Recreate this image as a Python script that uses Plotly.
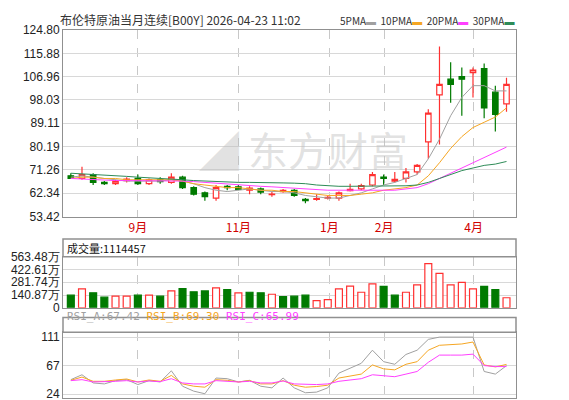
import plotly.graph_objects as go

# ---- data ----
opens  = [69, 68, 69.5, 66.5, 66, 67.2, 68, 66, 67.5, 66.5, 68.5, 64.5, 62.5, 60.5, 65, 64.8, 63.5, 64, 61.8, 63,
          63.5, 60, 60, 60.5, 60.5, 63.3, 64, 65.5, 68.5, 67, 68, 70.5, 82, 100, 106, 107, 108.5, 110, 101, 96.5]
closes = [68, 69.5, 66.5, 66, 67, 67.8, 66, 67.5, 66.8, 68.5, 64.5, 62, 61, 64.5, 64.5, 63.8, 64.3, 62.8, 62, 63.5,
          61.5, 59.5, 60.3, 60.8, 62.5, 63.8, 65.3, 69.5, 68, 67.7, 70.5, 73, 93, 104, 104, 106, 109.5, 95, 92.5, 104]
highs  = [70, 72.5, 70, 67, 67.5, 68.5, 69.5, 68, 68.5, 70, 69, 65, 63, 65.5, 65.5, 65.5, 65, 64.5, 63, 64,
          64, 60.5, 62, 61.5, 63, 66, 66, 70.5, 69.5, 70.5, 72, 73.5, 94.5, 118.5, 112.5, 110.5, 110.5, 112, 103.5, 106.5]
lows   = [67.8, 67.5, 65.5, 65.5, 65.5, 66.5, 65.5, 65.5, 66, 66, 64, 61.5, 59.5, 59.5, 63.5, 63.5, 62, 62, 61, 62.5,
          61, 58.5, 59.5, 60, 59.5, 63, 63.5, 65, 65.5, 66.5, 66.5, 69.5, 75.5, 81, 97, 92, 99, 91, 86, 93.5]

ma5  = [68.5, 69, 68.5, 68, 67.5, 67, 67, 67, 67, 67.5, 67, 66, 64.5, 63.5, 63, 63.5, 64, 63.5, 63, 63,
        62.5, 61.5, 61, 60.5, 60.5, 61.5, 62.5, 64, 65.5, 66.5, 68, 69.5, 75.5, 83, 92, 99, 103.5, 103.5, 101.5, 101.5]
ma10 = [68, 68.5, 68.5, 68, 68, 67.5, 67.5, 67.5, 67.5, 67.5, 67, 66, 65.5, 65, 64.5, 64.5, 64, 63.5, 63.5, 63,
        63, 62.5, 62, 61.5, 61.5, 61.5, 62, 62.5, 63.5, 64, 64.5, 65.5, 69, 74, 79.5, 84, 87.5, 89.5, 91.5, 95]
ma20 = [68, 67.8, 67.5, 67.3, 67.2, 67.2, 67.2, 67.2, 67.2, 67.2, 67, 66.8, 66.5, 66, 65.8, 65.5, 65.2, 65, 64.8, 64.5,
        64.2, 64, 63.8, 63.5, 63.5, 63.5, 63.5, 63.5, 63.5, 63.5, 64, 64.5, 66, 68, 70, 72, 74, 76, 78, 80]
ma30 = [70, 69.8, 69.5, 69.2, 69, 68.8, 68.5, 68.3, 68, 67.8, 67.5, 67.2, 67, 66.8, 66.6, 66.5, 66.5, 66.5, 66.5, 66.3,
        66.2, 66, 65.5, 65.2, 65, 65, 65, 65, 65, 65, 65.2, 65.5, 66.5, 68, 69.5, 71, 72, 73, 73.5, 74.5]

volume = [140, 208, 165, 118, 129, 129, 140, 140, 129, 186, 211, 176, 186, 219, 201, 165, 172, 165, 150, 125,
          129, 140, 79, 90, 208, 240, 172, 265, 237, 140, 172, 254, 487, 380, 254, 280, 208, 237, 201, 111.4]
vol_rising = [0, 1, 0, 0, 1, 1, 0, 1, 0, 1, 0, 0, 0, 1, 0, 1, 0, 0, 1, 0,
              0, 0, 1, 1, 1, 1, 1, 1, 0, 0, 1, 1, 1, 1, 1, 1, 1, 0, 0, 1]

rsi_a = [46, 53.5, 41, 39.5, 44.5, 46, 38.5, 44.5, 42.5, 59.5, 36, 28.5, 24.5, 48.5, 47.5, 42.5, 45, 36, 33.5, 48.5,
         33.5, 26, 27, 33.5, 56, 63.5, 71, 91, 73.5, 69.5, 84.5, 91, 107.5, 111, 111, 111, 111, 58.5, 54.5, 67.42]
rsi_b = [45, 50, 43.5, 43.5, 45.5, 47, 42.5, 45.5, 43.5, 52.5, 39.5, 36, 34.5, 46, 45, 42.5, 44.5, 39.5, 39.5, 44.5,
         37.5, 34.5, 35.5, 37.5, 48.5, 51, 54.5, 68.5, 62.5, 61, 69.5, 73.5, 91, 98.5, 99.5, 100.5, 103.5, 68.5, 65.5, 69.30]
rsi_c = [44.5, 46, 42.5, 42.5, 43.5, 44.5, 42.5, 44, 43, 47.5, 41, 39.5, 39.5, 44.5, 44, 42.5, 43.5, 41, 41, 44,
         39.5, 38.5, 38.5, 39.5, 43.5, 45.5, 47.5, 53.5, 52, 50.5, 54.5, 58.5, 72.5, 83.5, 83.5, 83.5, 85, 67.5, 66, 65.99]

month_pos = [6, 15, 23.15, 28.05, 36.05]
month_text = ["9月", "11月", "1月", "2月", "4月"]
price_ticks = [53.42, 62.34, 71.26, 80.19, 89.11, 98.03, 106.96, 115.88, 124.80]
vol_ticks = [0, 140.87, 281.74, 422.61, 563.48]
vol_text = ["0", "140.87万", "281.74万", "422.61万", "563.48万"]
rsi_ticks = [24, 67, 111]

RED = "#ff3030"
GREEN = "#007a00"
x = list(range(len(closes)))

fig = go.Figure()

fig.add_trace(go.Candlestick(x=x, open=opens, high=highs, low=lows, close=closes,
                             increasing=dict(line=dict(color=RED, width=1.2), fillcolor="white"),
                             decreasing=dict(line=dict(color=GREEN, width=1.2), fillcolor=GREEN),
                             whiskerwidth=0, hoverinfo="none", xaxis="x", yaxis="y"))
for vals, col in [(ma5, "#a0a0a0"), (ma10, "#f5a623"), (ma20, "#ff40ff"), (ma30, "#2e8b57")]:
    fig.add_trace(go.Scatter(x=x, y=vals, mode="lines", line=dict(color=col, width=1),
                             xaxis="x", yaxis="y", hoverinfo="none"))

fig.add_trace(go.Bar(x=x, y=volume, width=0.62,
                     marker=dict(color=["white" if u else GREEN for u in vol_rising],
                                 line=dict(color=[RED if u else GREEN for u in vol_rising], width=1.2)),
                     xaxis="x2", yaxis="y2", hoverinfo="none"))

for vals, col in [(rsi_a, "#a0a0a0"), (rsi_b, "#f5a623"), (rsi_c, "#ff40ff")]:
    fig.add_trace(go.Scatter(x=x, y=vals, mode="lines", line=dict(color=col, width=1),
                             xaxis="x3", yaxis="y3", hoverinfo="none"))

xbase = dict(range=[-0.7, 39.85], showgrid=True, gridcolor="#c8c8c8", griddash="dash", gridwidth=1,
             tickvals=month_pos, ticktext=month_text, zeroline=False, mirror=True, showline=True,
             linecolor="#909090", rangeslider=dict(visible=False), ticks="")
ybase = dict(showgrid=True, gridcolor="#d8d8d8", zeroline=False, showline=True, mirror=True,
             linecolor="#909090", ticks="", tickfont=dict(size=12, color="#222", family="Arial"))

fig.update_layout(
    width=569, height=400, margin=dict(l=54, r=61, t=22, b=3),
    paper_bgcolor="white", plot_bgcolor="white", showlegend=False,
    font=dict(family="Noto Sans CJK SC, Arial", size=12, color="#222"),
    xaxis=dict(xbase, domain=[0, 1], anchor="y", showticklabels=True,
               tickfont=dict(color="#d00000", size=12)),
    xaxis2=dict(xbase, anchor="y2", matches="x", showticklabels=False),
    xaxis3=dict(xbase, anchor="y3", matches="x", showticklabels=False),
    yaxis=dict(ybase, domain=[0.493, 1], range=[53.42, 124.80], tickvals=price_ticks,
               ticktext=["%.2f" % v for v in price_ticks]),
    yaxis2=dict(ybase, domain=[0.245, 0.384], range=[0, 563.48], tickvals=vol_ticks, ticktext=vol_text),
    yaxis3=dict(ybase, domain=[0, 0.179], range=[18, 118.6], tickvals=rsi_ticks),
)

# header boxes above volume and RSI panels
for y0, y1 in [(0.384, 0.432), (0.179, 0.219)]:
    fig.add_shape(type="rect", xref="paper", yref="paper", x0=0, x1=1, y0=y0, y1=y1,
                  line=dict(color="#909090", width=1.5), fillcolor="white")

fig.add_annotation(x=0.005, y=0.408, xref="paper", yref="paper", xanchor="left", showarrow=False,
                   text="成交量:1114457", font=dict(size=11, color="#111"))
fig.add_annotation(x=0.005, y=0.199, xref="paper", yref="paper", xanchor="left", showarrow=False,
                   text="<span style='color:#a0a0a0'>RSI_A:67.42</span> "
                        "<span style='color:#f5a623'>RSI_B:69.30</span> "
                        "<span style='color:#ff40ff'>RSI_C:65.99</span>",
                   font=dict(size=11, family="DejaVu Sans Mono"))

fig.add_annotation(x=-0.01, y=1.0, xref="paper", yref="paper", xanchor="left", yanchor="bottom",
                   showarrow=False,
                   text="布伦特原油当月连续[B00Y] 2026-04-23 11:02", font=dict(size=12, color="#333"))
fig.add_annotation(x=1.0, y=1.0, xref="paper", yref="paper", xanchor="right", yanchor="bottom",
                   showarrow=False,
                   text="5PMA<span style='color:#a0a0a0'>▬</span>  10PMA<span style='color:#f5a623'>▬</span>  "
                        "20PMA<span style='color:#ff40ff'>▬</span>  30PMA<span style='color:#2e8b57'>▬</span>",
                   font=dict(size=10, color="#333"))

# watermark
fig.add_annotation(x=0.53, y=0.76, xref="paper", yref="paper", showarrow=False,
                   text="◢ 东方财富", font=dict(size=40, color="rgba(190,190,190,0.45)"))

fig.write_html("out.html")
